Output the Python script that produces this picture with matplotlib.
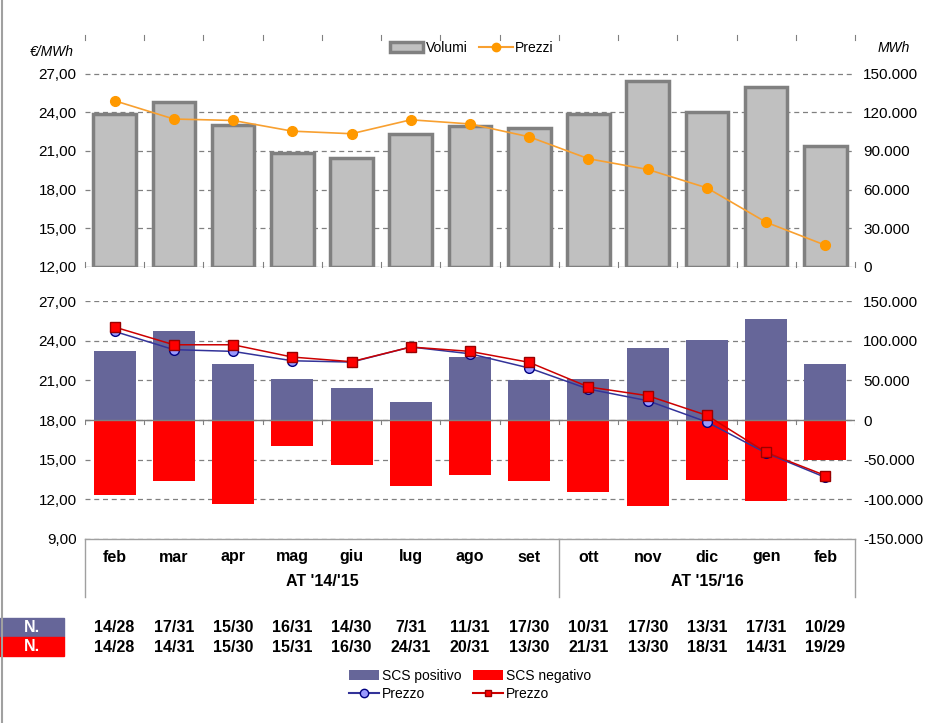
import numpy as np
import matplotlib
matplotlib.use("Agg")
import matplotlib.pyplot as plt
import matplotlib.transforms as mtransforms
from matplotlib.lines import Line2D
from matplotlib.patches import Patch, Rectangle
from matplotlib.ticker import FuncFormatter, FixedLocator

plt.rcParams['font.family'] = ['Liberation Sans', 'DejaVu Sans']

# dati
mesi = ['feb', 'mar', 'apr', 'mag', 'giu', 'lug', 'ago', 'set',
        'ott', 'nov', 'dic', 'gen', 'feb']
gruppi = ["AT '14/'15", "AT '15/'16"]
gruppi_idx = [(0, 7), (8, 12)]

volumi = [119000, 128000, 110000, 88500, 84500, 103500, 109500, 107500,
          119000, 144000, 120500, 140000, 94000]
prezzi = [24.90, 23.48, 23.37, 22.54, 22.34, 23.42, 23.10, 22.10,
          20.40, 19.57, 18.14, 15.47, 13.69]

scs_pos = [87000, 112000, 70500, 51500, 40500, 22500, 79500, 50500,
           51500, 90500, 101000, 127000, 70500]
scs_neg = [-94000, -77500, -105500, -32500, -56500, -83000, -69000, -76500,
           -90500, -109000, -75000, -101500, -50000]
prezzo_pos = [24.70, 23.32, 23.19, 22.48, 22.38, 23.52, 23.01, 21.93,
              20.34, 19.46, 17.85, 15.50, 13.66]
prezzo_neg = [25.03, 23.69, 23.69, 22.76, 22.41, 23.52, 23.19, 22.36,
              20.50, 19.84, 18.35, 15.55, 13.80]

giorni_pos = ['14/28', '17/31', '15/30', '16/31', '14/30', '7/31', '11/31',
              '17/30', '10/31', '17/30', '13/31', '17/31', '10/29']
giorni_neg = ['14/28', '14/31', '15/30', '15/31', '16/30', '24/31', '20/31',
              '13/30', '21/31', '13/30', '18/31', '14/31', '19/29']

W, H = 935, 723
fig = plt.figure(figsize=(W / 100, H / 100), dpi=100)

x = np.arange(len(mesi))
grey = '#808080'
fmt_eur = FuncFormatter(lambda v, p: f'{v:.2f}'.replace('.', ','))
fmt_mwh = FuncFormatter(lambda v, p: f'{v:,.0f}'.replace(',', '.'))
bordi = np.arange(len(mesi) + 1) - 0.5


def px(xp, yp):
    return xp / W, 1 - yp / H


def setup(ax_l, ax_r):
    for a in (ax_l, ax_r):
        for s in a.spines.values():
            s.set_visible(False)
        a.set_xlim(-0.5, len(mesi) - 0.5)
        a.tick_params(axis='y', length=0, labelsize=11, pad=6)
    ax_l.set_zorder(ax_r.get_zorder() + 1)
    ax_l.patch.set_visible(False)
    ax_l.yaxis.set_major_formatter(fmt_eur)
    ax_r.yaxis.set_major_formatter(fmt_mwh)
    ax_r.grid(axis='y', color=grey, linestyle=(0, (4, 3)), linewidth=0.9)
    ax_r.set_axisbelow(True)
    ax_l.set_xticks([])
    ax_r.set_xticks([])


# --- grafico superiore ---
ax1 = fig.add_axes([85 / W, 1 - 267 / H, 770 / W, 232 / H])
ax1r = ax1.twinx()
setup(ax1, ax1r)
ax1.set_ylim(12, 30)
ax1.set_yticks(np.arange(12, 28, 3))
ax1r.set_ylim(0, 180000)
ax1r.set_yticks(np.arange(0, 150001, 30000))

ax1r.bar(x, volumi, width=0.72, color='#C0C0C0', edgecolor=grey,
         linewidth=2.5, zorder=2)
ax1.plot(x, prezzi, color='#F8A030', linewidth=1.2, marker='o',
         markersize=7, markerfacecolor='#FF9900', markeredgecolor='#FF9900')
ax1r.axhline(0, color=grey, linewidth=0.8, zorder=3)
for yb in (0, 1):
    for b in bordi:
        ax1.plot([b, b], [yb, yb + (0.02 if yb == 0 else -0.02)],
                 transform=ax1.get_xaxis_transform(), color=grey,
                 linewidth=0.8, clip_on=False)

fig.text(*px(30, 52), '€/MWh', fontsize=10, style='italic', va='center')
fig.text(*px(878, 48), 'MWh', fontsize=10, style='italic', va='center')

h_vol = Patch(facecolor='#C0C0C0', edgecolor=grey, linewidth=2.5)
h_pr = Line2D([], [], color='#F8A030', marker='o', markersize=6,
              markerfacecolor='#FF9900', markeredgecolor='#FF9900')
fig.legend([h_vol, h_pr], ['Volumi', 'Prezzi'], ncol=2, frameon=False,
           loc='center', bbox_to_anchor=px(472, 48), fontsize=10,
           handlelength=2.4, columnspacing=0.8, handletextpad=0.2)

# --- grafico inferiore ---
ax2 = fig.add_axes([85 / W, 1 - 539 / H, 770 / W, 238 / H])
ax2r = ax2.twinx()
setup(ax2, ax2r)
ax2.set_ylim(9, 27)
ax2.set_yticks(np.arange(9, 28, 3))
ax2r.set_ylim(-150000, 150000)
ax2r.set_yticks(np.arange(-150000, 150001, 50000))

ax2r.bar(x, scs_pos, width=0.71, color='#666699', zorder=2)
ax2r.bar(x, scs_neg, width=0.71, color='#FF0000', zorder=2)
ax2r.axhline(0, color=grey, linewidth=1, zorder=3)
for b in bordi:
    ax2r.plot([b, b], [0, -5000], color=grey, linewidth=0.8, zorder=3)

ax2.plot(x, prezzo_pos, color='#333399', linewidth=1.1, marker='o',
         markersize=7, markerfacecolor='#9999FF', markeredgecolor='#000080')
ax2.plot(x, prezzo_neg, color='#CC0000', linewidth=1.1, marker='s',
         markersize=7, markerfacecolor='#FF0000', markeredgecolor='#990000')

# tabella categorie
trans = mtransforms.blended_transform_factory(ax2.transData, fig.transFigure)
y_top, y_bot = 1 - 539 / H, 1 - 597 / H
fig.add_artist(Line2D([-0.5, len(mesi) - 0.5], [y_top, y_top],
                      transform=trans, color='#A0A0A0', linewidth=1))
for b in (-0.5, 7.5, 12.5):
    fig.add_artist(Line2D([b, b], [y_top, y_bot], transform=trans,
                          color='#A0A0A0', linewidth=1))

narrow = ['Liberation Sans Narrow', 'Liberation Sans', 'DejaVu Sans']
for i, m in enumerate(mesi):
    fig.text(i, 1 - 557 / H, m, transform=trans, ha='center', va='center',
             fontsize=11.5, fontweight='bold', family=narrow)
    fig.text(i, 1 - 628 / H, giorni_pos[i], transform=trans, ha='center',
             va='center', fontsize=11.5, fontweight='bold', family=narrow)
    fig.text(i, 1 - 647 / H, giorni_neg[i], transform=trans, ha='center',
             va='center', fontsize=11.5, fontweight='bold', family=narrow)
for g, (a, b) in zip(gruppi, gruppi_idx):
    fig.text((a + b) / 2, 1 - 581 / H, g, transform=trans, ha='center',
             va='center', fontsize=11.5, fontweight='bold', family=narrow)

for yp, col in ((618, '#666699'), (637, '#FF0000')):
    fig.add_artist(Rectangle(px(0, yp + 19), 64 / W, 19 / H,
                             transform=fig.transFigure, color=col))
    fig.text(*px(32, yp + 9.5), 'N.', color='white', ha='center',
             va='center', fontsize=11.5, fontweight='bold', family=narrow)

h_pos = Patch(facecolor='#666699')
h_neg = Patch(facecolor='#FF0000')
h_cp = Line2D([], [], color='#333399', marker='o', markersize=6,
              markerfacecolor='#9999FF', markeredgecolor='#000080')
h_cn = Line2D([], [], color='#CC0000', marker='s', markersize=5,
              markerfacecolor='#FF0000', markeredgecolor='#990000')
fig.legend([h_pos, h_cp, h_neg, h_cn],
           ['SCS positivo', 'Prezzo', 'SCS negativo', 'Prezzo'],
           ncol=2, frameon=False, loc='center', bbox_to_anchor=px(470, 685),
           fontsize=10, handlelength=2.2, columnspacing=0.8,
           handletextpad=0.2, labelspacing=0.3)

fig.add_artist(Line2D([1.5 / W, 1.5 / W], [0, 1], transform=fig.transFigure,
                      color='#A0A0A0', linewidth=1.5))

fig.savefig('out.png', dpi=100)
